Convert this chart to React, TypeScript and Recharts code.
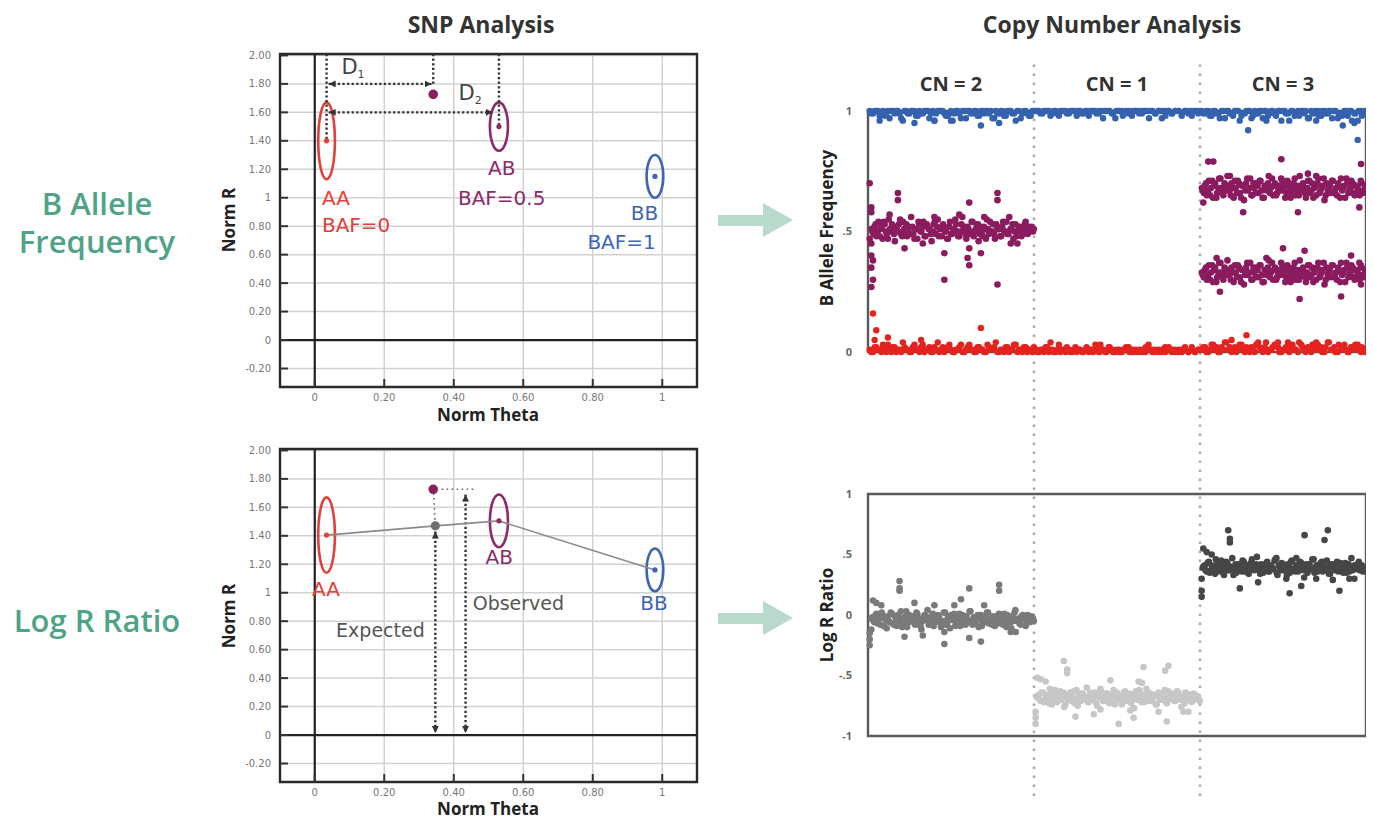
import React from "react";
import {
  ScatterChart,
  Scatter,
  XAxis,
  YAxis,
  CartesianGrid,
  ReferenceLine,
  ReferenceArea,
} from "recharts";

// ---------- SNP cluster plots (Norm Theta vs Norm R) ----------
const thetaTicks = [0, 0.2, 0.4, 0.6, 0.8, 1];
const thetaLabels = ["0", "0.20", "0.40", "0.60", "0.80", "1"];
const normRTicks = [-0.2, 0, 0.2, 0.4, 0.6, 0.8, 1, 1.2, 1.4, 1.6, 1.8, 2];
const normRLabels = ["-0.20", "0", "0.20", "0.40", "0.60", "0.80", "1", "1.20", "1.40", "1.60", "1.80", "2.00"];

// cluster centres + half extents (theta, R)
const clusterTheta = [0.034, 0.53, 0.979];
const clusterThetaHalf = [0.024, 0.026, 0.024];
const clusterRTop = [1.4, 1.5, 1.15];
const clusterRHalfTop = [0.27, 0.17, 0.15];
const clusterRBottom = [1.405, 1.505, 1.16];
const clusterRHalfBottom = [0.265, 0.185, 0.15];

const observed = [{ x: 0.341, y: 1.727 }];
const expected = [{ x: 0.347, y: 1.47 }];
const fitLine = [
  { x: 0.034, y: 1.405 },
  { x: 0.347, y: 1.47 },
  { x: 0.53, y: 1.505 },
  { x: 0.979, y: 1.16 },
];

// dotted guides [x1, y1, x2, y2]
const guidesTop = [
  [0.034, 2.01, 0.034, 1.4],
  [0.341, 2.01, 0.341, 1.8],
  [0.53, 2.01, 0.53, 1.5],
];
const distArrowsTop = [
  [0.04, 1.8, 0.336, 1.8],
  [0.04, 1.6, 0.512, 1.6],
];
const thinGuidesBottom = [
  [0.342, 1.7, 0.346, 1.5],
  [0.365, 1.727, 0.456, 1.727],
];
const arrowsBottom = [
  [0.347, 1.43, 0.347, 0.015],
  [0.434, 1.69, 0.434, 0.015],
];

const notesAATop = [{ x: 0.061, y: 1.0, label: "AA" }, { x: 0.119, y: 0.806, label: "BAF=0" }];
const notesABTop = [{ x: 0.538, y: 1.207, label: "AB" }, { x: 0.538, y: 1.0, label: "BAF=0.5" }];
const notesBBTop = [{ x: 0.949, y: 0.89, label: "BB" }, { x: 0.883, y: 0.686, label: "BAF=1" }];
const distNotes = [{ x: 0.11, y: 1.92, label: "D", sub: "1" }, { x: 0.447, y: 1.735, label: "D", sub: "2" }];

const notesAABottom = [{ x: 0.032, y: 1.025, label: "AA" }];
const notesABBottom = [{ x: 0.531, y: 1.249, label: "AB" }];
const notesBBBottom = [{ x: 0.976, y: 0.927, label: "BB" }];
const notesGrayBottom = [{ x: 0.189, y: 0.74, label: "Expected" }, { x: 0.586, y: 0.93, label: "Observed" }];

// ---------- Copy number panels (SNP index 0..300, three segments) ----------
const segBounds = [0, 100, 200, 300];
const segLabels = ["CN = 2", "CN = 1", "CN = 3"];
const bafTicks = [0, 0.5, 1];
const bafTickLabels = ["0", ".5", "1"];
const lrrTicks = [-1, -0.5, 0, 0.5, 1];
const lrrTickLabels = ["-1", "-.5", "0", ".5", "1"];

// B allele frequency, values in hundredths
const bafBlue1 = [100,99,100,98,100,99,97,100,100,99,96,100,99,100,98,100,99,100,97,100,99,100,100,98,99,96,100,99,100,97,100,99,100,98,100,100,99,97,100,99,100,98,100,99,96,100,99,100,98,100];
const bafBlue1b = [99,100,100,99,98,100,100,99,100,97,100,99,100,100,98,99,100,100,99,96,100,100,99,98,100,99,100,97,100,100,99,100,98,100,99,100,100,97,99,100,98,100,100,99,100,97,100,99,98,100];
const bafBlue2 = [100,100,99,100,100,99,100,98,100,100,99,100,100,100,99,100,98,100,100,99,100,100,100,99,97,100,100,99,100,98,100,100,99,100,100,100,99,100,97,100,100,99,100,100,98,100,99,100,100,99];
const bafBlue2b = [100,99,100,100,98,100,99,100,100,99,100,100,98,100,99,100,100,100,99,100,97,100,100,99,100,100,98,100,99,100,100,99,100,100,97,100,99,100,100,98,100,99,100,100,99,100,100,98,100,100];
const bafBlue3 = [100,99,100,98,100,99,100,97,100,99,100,100,98,99,100,97,100,99,100,100,98,100,99,100,96,100,99,100,98,100,100,99,97,100,99,100,98,100,99,100,100,97,99,100,98,100,99,96,100,99];
const bafBlue3b = [99,100,98,100,99,97,100,100,99,98,100,96,99,100,100,98,99,100,97,100,99,100,98,100,100,99,96,100,99,98,100,100,97,99,100,98,100,99,100,97,100,99,98,100,100,96,99,100,98,100];
const bafBlueOut = [[7,96],[28,95],[40,96],[50,96],[68,94],[79,95],[229,92],[286,94],[293,95],[295,88],[270,96],[240,96]];

const bafRed1 = [1,0,2,1,3,0,1,2,0,1,4,1,0,2,1,0,3,1,2,0,1,0,2,1,3,0,1,2,0,1,3,1,0,2,1,0,2,1,4,0,1,2,0,1,3,1,0,2,1,0];
const bafRed1b = [0,2,1,0,1,3,0,2,1,0,2,1,0,3,1,2,0,1,0,2,4,1,0,2,1,0,1,3,0,2,1,0,2,1,0,3,1,2,0,1,0,2,1,3,0,1,2,0,1,2];
const bafRed2 = [1,0,1,2,0,1,0,3,1,0,1,0,2,1,0,1,0,1,3,0,1,0,2,1,0,1,0,1,2,0,1,0,1,0,3,1,0,1,0,2,1,0,1,0,1,2,0,1,0,1];
const bafRed2b = [0,1,0,2,1,0,1,0,1,2,0,1,0,1,0,2,1,0,1,0,1,0,2,0,1,0,1,2,0,1,0,1,0,2,1,0,1,0,1,0,2,1,0,1,0,1,0,2,0,1];
const bafRed3 = [1,2,0,3,1,0,2,4,1,0,2,1,3,0,1,2,0,4,1,2,0,1,3,2,0,1,4,2,1,0,3,1,2,0,1,3,2,0,4,1,2,0,1,3,0,2,1,3,0,1];
const bafRed3b = [2,0,1,3,2,0,1,4,2,1,0,3,1,2,0,1,3,2,0,4,1,2,3,0,1,2,0,3,1,4,2,0,1,3,2,1,0,2,4,1,0,3,2,1,0,2,3,1,2,0];
const bafRedOut = [[3,16],[5,9],[4,5],[12,6],[32,5],[68,10],[219,5],[228,7],[140,3],[110,4],[270,4],[247,4]];

const bafHet = [51,49,53,50,48,52,54,50,47,51,53,49,52,50,55,48,51,53,50,49,52,47,51,54,50,52,48,53,51,49,50,54,52,48,51,53,50,47,52,49,51,55,50,48,53,51,49,52,50,54,48,51,53,49,50,52,47,51,54,50,49,53,51,48,52,50,54,49,51,53,50,48,52,51,49,53,50,52,51,50];
const bafHetB = [50,52,48,54,51,47,53,49,55,50,52,46,51,53,49,54,50,48,52,56,49,51,47,53,50,54,48,52,51,46,53,49,55,51,48,52,50,47,54,49,51,53,48,50,56,52,47,51,49,54,50,53,46,52,48,51,55,49,50,53,47,52,51,48,54,50,49,56,51,47,53,50,52,48,51,54,49,50,52,51];
const bafGainHigh = [68,66,70,67,65,71,69,64,68,72,66,70,67,69,65,68,71,66,70,64,69,67,72,68,65,70,66,69,71,67,64,68,70,66,72,69,65,68,67,71,69,66,70,64,68,72,67,65,69,70,66,68,71,67,64,69,70,66,68,72,65,67,69,71,66,68,70,64,67,69,72,66,68,70,65,69,67,71,66,68];
const bafGainHighB = [67,69,65,71,68,64,70,66,72,68,65,69,73,67,70,64,68,71,66,69,63,70,67,72,65,68,70,66,71,64,69,67,73,68,65,70,66,69,72,67,64,71,68,66,70,65,69,73,67,68,64,71,66,70,68,65,72,67,69,63,70,68,66,71,67,65,69,72,68,64,70,67,71,66,69,68,65,70,67,69];
const bafGainLow = [33,31,35,32,30,36,34,29,33,37,31,35,32,34,30,33,36,31,35,29,34,32,37,33,30,35,31,34,36,32,29,33,35,31,37,34,30,33,32,36,34,31,35,29,33,37,32,30,34,35,31,33,36,32,29,34,35,31,33,37,30,32,34,36,31,33,35,29,32,34,37,31,33,35,30,34,32,36,31,33];
const bafGainLowB = [32,34,30,36,33,29,35,31,37,33,30,34,38,32,35,29,33,36,31,34,28,35,32,37,30,33,35,31,36,29,34,32,38,33,30,35,31,34,37,32,29,36,33,31,35,30,34,38,32,33,29,36,31,35,33,30,37,32,34,28,35,33,31,36,32,30,34,37,33,29,35,32,36,31,34,33,30,35,32,34];
const bafPurpleOut = [[1,70],[2,60],[2,58],[1,47],[2,45],[2,40],[3,38],[2,35],[3,30],[2,27],[18,66],[18,63],[22,43],[33,45],[46,41],[46,30],[61,62],[61,43],[60,39],[61,36],[68,41],[78,66],[78,63],[78,28],[86,45],[90,45],[13,57],[40,56],[55,57],[70,56],
  [205,79],[208,79],[249,80],[297,78],[202,62],[226,58],[259,58],[296,60],[218,73],[265,74],[270,73],[212,25],[260,22],[285,23],[250,43],[263,42],[297,28],[291,40],[296,37],[210,39],[240,39]];

// Log R ratio, values in hundredths
const lrrTwoCopy = [-3,-5,0,-7,-2,2,-9,-4,-1,-6,1,-8,-3,0,-5,-10,-2,3,-6,-4,-1,-7,2,-3,-9,-5,0,-2,-8,-4,1,-6,-3,-1,-10,-5,2,-7,-2,0,-4,-9,-3,1,-6,-1,-8,-4,3,-5,-2,-7,0,-3,-9,-6,-1,2,-4,-8,-2,-5,0,-7,-3,1,-10,-4,-6,-1,2,-5,-3,-8,0,-2,-6,-4,-1,-3];
const lrrTwoCopyB = [-2,-6,1,-4,-8,0,-3,-11,-5,2,-7,-1,-9,-4,3,-6,-2,-10,0,-5,-3,-8,1,-6,-12,-2,-4,4,-7,-1,-9,-3,0,-6,-5,2,-8,-2,-11,-4,1,-7,-3,-9,0,-5,-1,-6,3,-8,-4,-2,-10,0,-6,-3,2,-7,-5,-1,-9,-4,1,-3,-8,-6,0,-2,-11,-5,4,-4,-7,-1,-3,-9,0,-6,-2,-5];
const lrrOneCopy = [-68,-66,-71,-64,-70,-67,-73,-65,-69,-62,-72,-67,-70,-64,-74,-68,-66,-71,-63,-69,-75,-67,-65,-70,-68,-72,-64,-69,-66,-73,-67,-61,-70,-68,-65,-72,-69,-66,-74,-64,-70,-67,-71,-63,-68,-66,-73,-69,-65,-70,-62,-72,-67,-68,-64,-71,-69,-66,-74,-67,-70,-65,-68,-72,-63,-69,-66,-71,-67,-64,-70,-68,-73,-65,-69,-67,-71,-66,-68,-70];
const lrrOneCopyB = [-67,-70,-64,-72,-66,-69,-61,-74,-68,-65,-71,-63,-69,-76,-66,-70,-64,-68,-73,-62,-67,-71,-65,-69,-60,-72,-66,-70,-64,-75,-68,-63,-71,-67,-65,-73,-69,-62,-70,-66,-68,-74,-64,-71,-67,-65,-69,-77,-63,-70,-68,-66,-72,-61,-69,-65,-71,-67,-74,-64,-70,-68,-62,-73,-66,-69,-65,-71,-63,-67,-76,-68,-64,-70,-66,-72,-65,-69,-67,-71];
const lrrThreeCopy = [39,41,36,44,37,40,34,42,38,45,35,40,43,37,39,33,42,38,41,36,44,39,35,40,46,37,42,38,34,41,39,43,36,40,38,45,35,41,37,42,39,33,40,44,38,36,41,39,43,37,40,35,42,38,46,39,36,41,44,37,40,38,34,42,39,41,36,43,38,40,35,42,39,37,41,38,44,40,36,39];
const lrrThreeCopyB = [40,37,43,35,41,38,46,36,42,39,33,44,37,40,47,38,35,42,39,45,36,41,34,43,38,40,48,37,42,35,39,44,36,41,38,46,33,40,43,37,39,42,35,45,38,41,36,44,40,31,42,37,39,46,35,41,38,43,36,40,45,34,42,39,37,44,38,41,35,43,39,36,47,40,38,42,37,41,39,36];
const lrrTwoOut = [[19,28],[19,22],[19,20],[1,-15],[1,-20],[1,-25],[2,-12],[3,12],[5,10],[8,8],[61,22],[79,25],[79,20],[22,-18],[33,-17],[46,-24],[46,-14],[61,-19],[68,-22],[86,-14],[89,-14],[56,13],[52,8],[70,8],[40,8],[28,10]];
const lrrOneOut = [[118,-38],[120,-45],[120,-48],[166,-43],[181,-42],[179,-46],[125,-84],[180,-88],[151,-90],[101,-90],[101,-85],[101,-80],[102,-52],[104,-53],[107,-55],[146,-54],[163,-55],[165,-56],[140,-78],[158,-79],[175,-80],[190,-80],[193,-80],[136,-82],[160,-85]];
const lrrThreeOut = [[217,70],[218,63],[218,60],[263,66],[277,70],[275,62],[224,22],[235,27],[254,18],[261,24],[284,20],[270,30],[201,15],[201,20],[201,30],[202,55],[204,52],[207,50],[246,47],[258,47],[290,30],[293,30],[252,30],[280,29]];

// ---------- helpers ----------
const RED = "#e2403b";
const PURPLE = "#8d2a6a";
const BLUE = "#3e66b0";
const TEAL = "#4fa386";
const SNP_FONT = "DejaVu Sans, sans-serif";

const band = (vals: number[], from: number, to: number) => {
  const step = (to - from) / vals.length;
  return vals.map((v, i) => ({ x: from + step * (i + 0.5), y: v / 100 }));
};
const pairs = (p: number[][]) => p.map(([x, y]) => ({ x, y: y / 100 }));

const dot = (color: string, r: number) => (p: any) =>
  <circle cx={p.cx} cy={p.cy} r={r} fill={color} />;

const noteShape = (color: string, size: number) => (p: any) => (
  <text x={p.cx} y={p.cy} fill={color} fontSize={size} fontFamily={SNP_FONT}
    textAnchor="middle" dominantBaseline="central">{p.payload.label}</text>
);

const ellipseShape = (color: string) => (p: any) => (
  <ellipse cx={p.x + p.width / 2} cy={p.y + p.height / 2} rx={Math.abs(p.width) / 2}
    ry={Math.abs(p.height) / 2} fill="none" stroke={color} strokeWidth={2.6} />
);

const dottedShape = (color: string, w: number, dash: string, arrows: boolean) => (p: any) => (
  <line x1={p.x1} y1={p.y1} x2={p.x2} y2={p.y2} stroke={color} strokeWidth={w}
    strokeDasharray={dash} markerStart={arrows ? "url(#arrowHead)" : undefined}
    markerEnd={arrows ? "url(#arrowHead)" : undefined} />
);

const segLine = (s: number[], key: string, color: string, w: number, dash: string, arrows: boolean) => (
  <ReferenceLine key={key} segment={[{ x: s[0], y: s[1] }, { x: s[2], y: s[3] }]}
    shape={dottedShape(color, w, dash, arrows)} />
);

const clusterAreas = (rc: number[], rh: number[]) =>
  [RED, PURPLE, BLUE].map((c, i) => (
    <ReferenceArea key={"cl" + i} x1={clusterTheta[i] - clusterThetaHalf[i]} x2={clusterTheta[i] + clusterThetaHalf[i]}
      y1={rc[i] - rh[i]} y2={rc[i] + rh[i]} shape={ellipseShape(c)} />
  ));

const clusterDots = (rc: number[]) =>
  [RED, PURPLE, BLUE].map((c, i) => (
    <Scatter key={"cd" + i} data={[{ x: clusterTheta[i], y: rc[i] }]} shape={dot(c, 2.6)} isAnimationActive={false} />
  ));

const snpFrame = () => [
  <CartesianGrid key="grid" stroke="#d2d2d2" strokeWidth={1.5} />,
  <XAxis key="x" type="number" dataKey="x" domain={[-0.1, 1.1]} ticks={thetaTicks} allowDataOverflow
    tickFormatter={(v: number) => thetaLabels[thetaTicks.indexOf(v)]} height={24} axisLine={false}
    tickSize={-8} tickMargin={15} tickLine={{ stroke: "#333", strokeWidth: 2 }}
    tick={{ fontSize: 10, fill: "#777", fontFamily: SNP_FONT }} interval={0} />,
  <YAxis key="y" type="number" dataKey="y" domain={[-0.33, 2.01]} ticks={normRTicks} allowDataOverflow
    tickFormatter={(v: number) => normRLabels[normRTicks.findIndex((t) => Math.abs(t - v) < 1e-6)]}
    width={50} axisLine={false} tickSize={-8} tickMargin={17} tickLine={{ stroke: "#333", strokeWidth: 2 }}
    tick={{ fontSize: 10, fill: "#777", fontFamily: SNP_FONT }} interval={0} />,
  <ReferenceLine key="x0" x={0} stroke="#222" strokeWidth={2.2} />,
  <ReferenceLine key="y0" y={0} stroke="#222" strokeWidth={2.2} />,
  <ReferenceArea key="frame" x1={-0.1} x2={1.1} y1={-0.33} y2={2.01} fill="none" fillOpacity={0}
    stroke="#2a2a2a" strokeWidth={2.4} />,
];

const Txt = ({ x, y, size, color, weight = 700, rotate = false, children }: any) => (
  <div style={{
    position: "absolute", left: x, top: y, transform: `translate(-50%, -50%)${rotate ? " rotate(-90deg)" : ""}`,
    fontSize: size, color, fontWeight: weight, whiteSpace: "nowrap", lineHeight: 1,
  }}>{children}</div>
);

const BigArrow = ({ y }: { y: number }) => (
  <svg style={{ position: "absolute", left: 716, top: y - 18 }} width={80} height={36}>
    <polygon points="2,13 47,13 47,1 77,18 47,35 47,24 2,24" fill="#b8d9cc" />
  </svg>
);

const segX = (i: number) => 868 + ((segBounds[i] + segBounds[i + 1]) / 2) * (498 / 300);

export default function App() {
  const bafPurple = [
    ...band(bafHet, 1.5, 100), ...band(bafHetB, 2, 100.5),
    ...band(bafGainHigh, 200.5, 300), ...band(bafGainHighB, 201, 300.5),
    ...band(bafGainLow, 200.5, 300), ...band(bafGainLowB, 201, 300.5),
    ...pairs(bafPurpleOut),
  ];
  const bafBlue = [
    ...band(bafBlue1, 0, 100), ...band(bafBlue1b, 1, 101),
    ...band(bafBlue2, 100, 200), ...band(bafBlue2b, 101, 200),
    ...band(bafBlue3, 200, 300), ...band(bafBlue3b, 201, 300.5),
    ...pairs(bafBlueOut),
  ];
  const bafRed = [
    ...band(bafRed1, 0, 100), ...band(bafRed1b, 1, 101),
    ...band(bafRed2, 100, 200), ...band(bafRed2b, 101, 200),
    ...band(bafRed3, 200, 300), ...band(bafRed3b, 201, 300.5),
    ...pairs(bafRedOut),
  ];
  const lrrTwo = [...band(lrrTwoCopy, 1.5, 100), ...band(lrrTwoCopyB, 2, 100.5), ...pairs(lrrTwoOut)];
  const lrrOne = [...band(lrrOneCopy, 101, 200), ...band(lrrOneCopyB, 101.5, 200.5), ...pairs(lrrOneOut)];
  const lrrThree = [...band(lrrThreeCopy, 201, 300), ...band(lrrThreeCopyB, 201.5, 300.5), ...pairs(lrrThreeOut)];

  return (
    <div style={{ position: "absolute", left: 0, top: 0, width: 1373, height: 820, background: "#fff", fontFamily: "'Open Sans', sans-serif" }}>
      <svg width={0} height={0} style={{ position: "absolute" }}>
        <defs>
          <marker id="arrowHead" viewBox="0 0 10 10" refX={10} refY={5} markerWidth={7} markerHeight={7}
            markerUnits="userSpaceOnUse" orient="auto-start-reverse">
            <path d="M0,0 L10,5 L0,10 z" fill="#333" />
          </marker>
        </defs>
      </svg>

      <Txt x={481} y={24} size={23} color="#333">SNP Analysis</Txt>
      <Txt x={1112} y={24} size={23} color="#333">Copy Number Analysis</Txt>
      <Txt x={97} y={203} size={31} color={TEAL} weight={600}>B Allele</Txt>
      <Txt x={97} y={241} size={31} color={TEAL} weight={600}>Frequency</Txt>
      <Txt x={97} y={620} size={31} color={TEAL} weight={600}>Log R Ratio</Txt>
      <BigArrow y={220} />
      <BigArrow y={618} />

      {/* copy number: segment separators, drawn behind both panels */}
      <div style={{ position: "absolute", left: 818, top: 58 }}>
        <ScatterChart width={548} height={738} margin={{ top: 0, right: 0, left: 50, bottom: 0 }}>
          <XAxis type="number" dataKey="x" domain={[0, 300]} hide />
          <YAxis type="number" dataKey="y" domain={[0, 1]} hide />
          <Scatter data={[{ x: 0, y: 0 }, { x: 300, y: 1 }]} shape={() => <g />} isAnimationActive={false} />
          {segBounds.slice(1, 3).map((b) => (
            <ReferenceLine key={b} x={b} stroke="#a8a8a8" strokeWidth={2.4} strokeDasharray="2.5 6.5" />
          ))}
        </ScatterChart>
      </div>

      {/* SNP analysis, BAF */}
      <Txt x={228} y={220} size={17} color="#222" rotate>Norm R</Txt>
      <Txt x={488} y={414} size={17} color="#222">Norm Theta</Txt>
      <div style={{ position: "absolute", left: 230, top: 44 }}>
        <ScatterChart width={480} height={367} margin={{ top: 10, right: 13, left: 0, bottom: 0 }}>
          {snpFrame()}
          {guidesTop.map((s, i) => segLine(s, "g" + i, "#333", 2.4, "2.2 2.4", false))}
          {distArrowsTop.map((s, i) => segLine(s, "a" + i, "#333", 2.4, "2.2 2.4", true))}
          {clusterAreas(clusterRTop, clusterRHalfTop)}
          {clusterDots(clusterRTop)}
          <Scatter data={observed} shape={dot("#8a1f5c", 4.8)} isAnimationActive={false} />
          <Scatter data={notesAATop} shape={noteShape(RED, 20)} isAnimationActive={false} />
          <Scatter data={notesABTop} shape={noteShape(PURPLE, 20)} isAnimationActive={false} />
          <Scatter data={notesBBTop} shape={noteShape(BLUE, 20)} isAnimationActive={false} />
          <Scatter data={distNotes} isAnimationActive={false} shape={(p: any) => (
            <text x={p.cx} y={p.cy} fill="#444" fontSize={21} fontFamily={SNP_FONT} textAnchor="middle" dominantBaseline="central">
              {p.payload.label}<tspan fontSize={11} dy={7}>{p.payload.sub}</tspan>
            </text>
          )} />
        </ScatterChart>
      </div>

      {/* SNP analysis, LRR */}
      <Txt x={228} y={616} size={17} color="#222" rotate>Norm R</Txt>
      <Txt x={488} y={808} size={17} color="#222">Norm Theta</Txt>
      <div style={{ position: "absolute", left: 230, top: 439 }}>
        <ScatterChart width={480} height={367} margin={{ top: 10, right: 13, left: 0, bottom: 0 }}>
          {snpFrame()}
          {thinGuidesBottom.map((s, i) => segLine(s, "t" + i, "#666", 1.6, "1.6 3.4", false))}
          {arrowsBottom.map((s, i) => segLine(s, "b" + i, "#333", 2.4, "2.2 2.4", true))}
          <Scatter data={fitLine} line={{ stroke: "#8a8a8a", strokeWidth: 1.6 }} shape={() => <g />} isAnimationActive={false} />
          {clusterAreas(clusterRBottom, clusterRHalfBottom)}
          {clusterDots(clusterRBottom)}
          <Scatter data={expected} shape={dot("#6f6f6f", 4.6)} isAnimationActive={false} />
          <Scatter data={observed} shape={dot("#8a1f5c", 4.8)} isAnimationActive={false} />
          <Scatter data={notesAABottom} shape={noteShape(RED, 20)} isAnimationActive={false} />
          <Scatter data={notesABBottom} shape={noteShape(PURPLE, 20)} isAnimationActive={false} />
          <Scatter data={notesBBBottom} shape={noteShape(BLUE, 20)} isAnimationActive={false} />
          <Scatter data={notesGrayBottom} shape={noteShape("#555", 19)} isAnimationActive={false} />
        </ScatterChart>
      </div>

      {segLabels.map((s, i) => (
        <Txt key={s} x={segX(i)} y={84} size={20} color="#333">{s}</Txt>
      ))}

      {/* BAF */}
      <Txt x={826} y={228} size={17} color="#222" rotate>B Allele Frequency</Txt>
      <div style={{ position: "absolute", left: 818, top: 101 }}>
        <ScatterChart width={548} height={261} margin={{ top: 10, right: 0, left: 0, bottom: 10 }}>
          <XAxis type="number" dataKey="x" domain={[0, 300]} hide />
          <YAxis type="number" dataKey="y" domain={[0, 1]} ticks={bafTicks} width={50} axisLine={false} tickLine={false}
            tickMargin={10} tickFormatter={(v: number) => bafTickLabels[bafTicks.indexOf(v)]}
            tick={{ fontSize: 11, fill: "#666", fontWeight: 700 }} />
          <ReferenceArea x1={0} x2={300} y1={0} y2={1} fill="none" fillOpacity={0} stroke="#5a5a5a" strokeWidth={2.4} />
          <Scatter data={bafPurple} shape={dot("#8b1b5f", 3.3)} isAnimationActive={false} />
          <Scatter data={bafBlue} shape={dot("#3462ae", 3.2)} isAnimationActive={false} />
          <Scatter data={bafRed} shape={dot("#e42320", 3.2)} isAnimationActive={false} />
        </ScatterChart>
      </div>

      {/* LRR */}
      <Txt x={826} y={615} size={17} color="#222" rotate>Log R Ratio</Txt>
      <div style={{ position: "absolute", left: 818, top: 484 }}>
        <ScatterChart width={548} height={262} margin={{ top: 10, right: 0, left: 0, bottom: 10 }}>
          <XAxis type="number" dataKey="x" domain={[0, 300]} hide />
          <YAxis type="number" dataKey="y" domain={[-1, 1]} ticks={lrrTicks} width={50} axisLine={false} tickLine={false}
            tickMargin={10} tickFormatter={(v: number) => lrrTickLabels[lrrTicks.indexOf(v)]}
            tick={{ fontSize: 11, fill: "#666", fontWeight: 700 }} />
          <ReferenceArea x1={0} x2={300} y1={-1} y2={1} fill="none" fillOpacity={0} stroke="#5a5a5a" strokeWidth={2.4} />
          <Scatter data={lrrTwo} shape={dot("#7a7a7a", 3.3)} isAnimationActive={false} />
          <Scatter data={lrrOne} shape={dot("#c7c7c7", 3.3)} isAnimationActive={false} />
          <Scatter data={lrrThree} shape={dot("#464646", 3.3)} isAnimationActive={false} />
        </ScatterChart>
      </div>
    </div>
  );
}
